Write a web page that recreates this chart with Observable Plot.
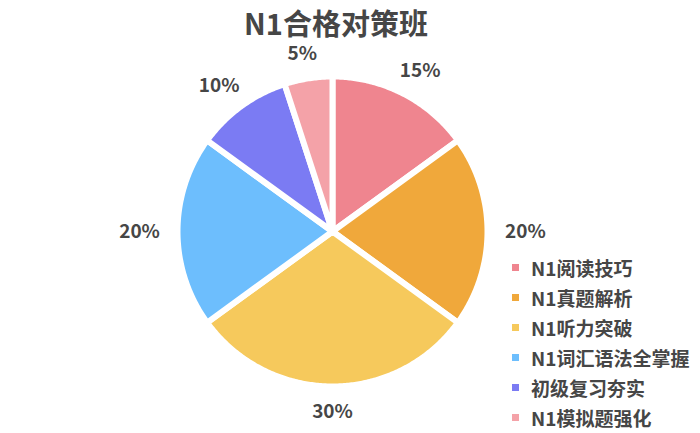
<!DOCTYPE html>
<html>
<head>
<meta charset="utf-8">
<script src="https://cdn.jsdelivr.net/npm/d3@7"></script>
<script src="https://cdn.jsdelivr.net/npm/@observablehq/plot@0.6"></script>
<style>
  body { margin: 0; background: #fff; font-family: "Noto Sans CJK SC", "Noto Sans", sans-serif; }
  #wrap { position: relative; width: 700px; height: 433px; overflow: hidden; }
  #title { width: 672px; height: 30px; padding-top: 7px; line-height: 30px; text-align: center;
           font-size: 29px; font-weight: bold; color: #464646; }
  #legend { position: absolute; left: 512px; top: 252px; }
  #legend .lg-swatches { font-family: "Noto Sans CJK SC", sans-serif; font-size: 19px; font-weight: bold;
                         color: #464646; margin: 0; }
  #legend .lg-swatch { display: flex; align-items: center; height: 30px; padding: 0; margin: 0; }
  #legend .lg-swatch > svg { margin-right: 12px; }
  #legend .lg-swatch-label { overflow: visible; }
</style>
</head>
<body>
<div id="wrap">
  <div id="title">N1合格对策班</div>
  <div id="chart"></div>
  <div id="legend"></div>
</div>
<script>
// Course share of the N1 preparation class (percent), clockwise from 12 o'clock
const courses = ["N1阅读技巧", "N1真题解析", "N1听力突破", "N1词汇语法全掌握", "初级复习夯实", "N1模拟题强化"];
const shares = [15, 20, 30, 20, 10, 5];
const palette = ["#EF858F", "#F0A83B", "#F6C95C", "#6DBEFD", "#7B7BF3", "#F4A2A8"];

const W = 700, H = 396;      // svg size
const cx = 332, cy = 194;    // pie centre in pixels
const R = 155;               // pie radius in pixels (1 unit on both scales)

const arcs = d3.pie().sort(null).value(d => d)(shares);

// Outline of each slice as a closed polygon: centre → arc → centre
const outline = [];
arcs.forEach((a, i) => {
  const name = courses[i];
  outline.push({name, x: 0, y: 0});
  const steps = Math.max(4, Math.ceil((a.endAngle - a.startAngle) / 0.01));
  for (let k = 0; k <= steps; k++) {
    const t = a.startAngle + (a.endAngle - a.startAngle) * k / steps;
    outline.push({name, x: Math.sin(t), y: Math.cos(t)});
  }
  outline.push({name, x: 0, y: 0});
});

// Percentage labels placed outside each slice along its mid angle
const labels = arcs.map((a, i) => {
  const m = (a.startAngle + a.endAngle) / 2;
  return {label: `${shares[i]}%`, x: 1.245 * Math.sin(m), y: 1.161 * Math.cos(m)};
});

const plot = Plot.plot({
  width: W,
  height: H,
  margin: 0,
  x: {domain: [-cx / R, (W - cx) / R], axis: null},
  y: {domain: [-(H - cy) / R, cy / R], axis: null},
  color: {domain: courses, range: palette},
  marks: [
    Plot.line(outline, {
      x: "x", y: "y", z: "name", fill: "name",
      stroke: "white", strokeWidth: 6, strokeLinejoin: "round", curve: "linear"
    }),
    Plot.text(labels, {
      x: "x", y: "y", text: "label",
      fontSize: 19, fontWeight: "bold", fill: "#464646",
      fontFamily: "Noto Sans CJK SC"
    })
  ]
});
plot.style.display = "block";
document.getElementById("chart").append(plot);

document.getElementById("legend").append(
  plot.legend("color", {swatchSize: 7, columns: 1, className: "lg"})
);
</script>
</body>
</html>
